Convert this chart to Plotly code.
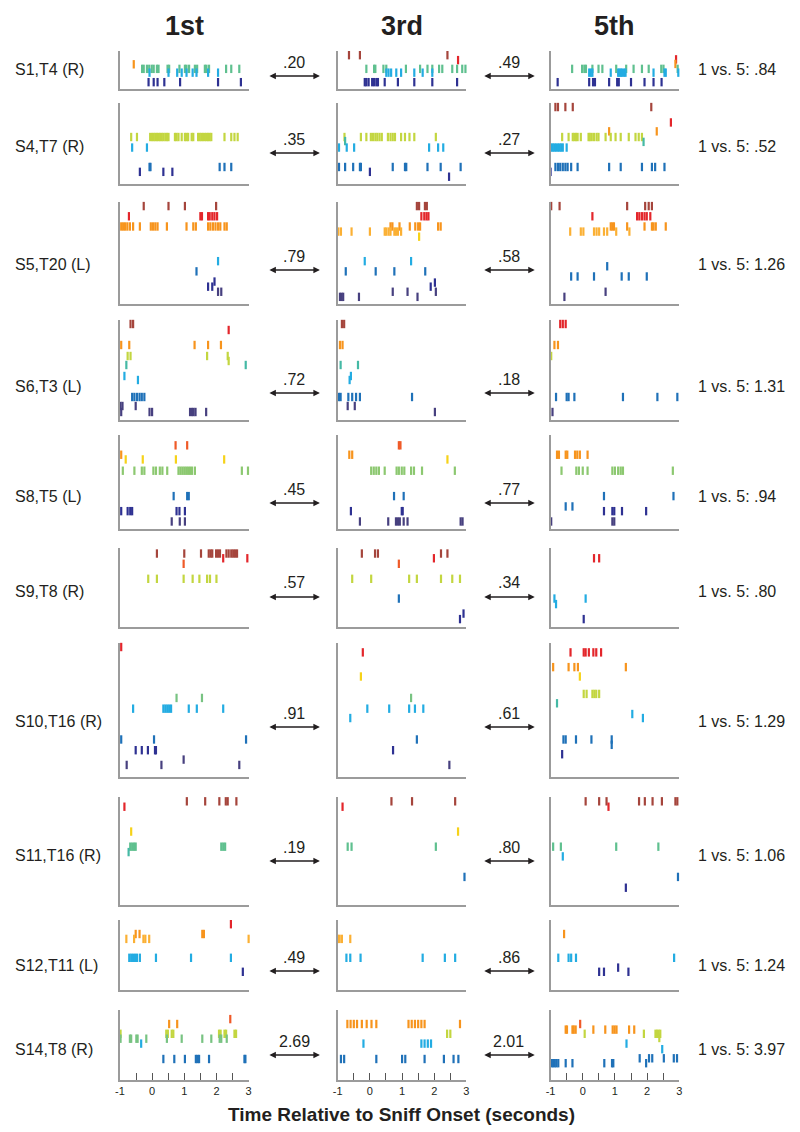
import plotly.graph_objects as go

W, H = 800, 1132

COLUMNS = ["1st", "3rd", "5th"]
ROW_LABELS = ["S1,T4 (R)", "S4,T7 (R)", "S5,T20 (L)", "S6,T3 (L)", "S8,T5 (L)",
              "S9,T8 (R)", "S10,T16 (R)", "S11,T16 (R)", "S12,T11 (L)", "S14,T8 (R)"]
CORR_1_3 = [".20", ".35", ".79", ".72", ".45", ".57", ".91", ".19", ".49", "2.69"]
CORR_3_5 = [".49", ".27", ".58", ".18", ".77", ".34", ".61", ".80", ".86", "2.01"]
CORR_1_5 = [".84", ".52", "1.26", "1.31", ".94", ".80", "1.29", "1.06", "1.24", "3.97"]
X_TICKS = [-1, -0.5, 0, 0.5, 1, 1.5, 2, 2.5, 3]
X_TICK_TEXT = ["-1", "", "0", "", "1", "", "2", "", "3"]

# spike rasters: per row -> [1st, 3rd, 5th], each a list of (unit, level 0-100, spike times in s)
S1_T4 = [
    [("orange", 65, [-0.57]),
     ("mint", 53, [-0.31, -0.26, -0.16, -0.09, -0.01, 0.05, 0.15, 0.2, 0.48, 0.53, 0.85, 1.02, 1.07,
                   1.15, 1.33, 1.4, 1.64, 1.69, 1.77, 2.3, 2.46, 2.71]),
     ("cyan", 43, [-0.08, 0.51, 0.78, 0.92, 1.07, 1.26, 1.38, 1.74, 2.05]),
     ("navy", 18, [-0.11, 0.05, 0.17, 0.38, 0.87, 2.05, 2.76])],
    [("brown", 89, [-0.65, -0.31, 2.41]),
     ("red", 76, [2.74]),
     ("mint", 53, [-0.11, 0.13, 0.17, 0.42, 0.51, 1.12, 1.56, 1.79, 1.94, 2.15, 2.25, 2.56, 2.71, 2.87, 2.97]),
     ("cyan", 43, [0.51, 0.58, 0.66, 0.82, 0.97, 1.38, 1.64, 1.94]),
     ("navy", 18, [-0.16, -0.11, -0.04, 0.07, 0.13, 0.2, 0.25, 0.46, 0.87, 1.38, 1.94, 2.71])],
    [("red", 78, [2.9]),
     ("orange", 66, [2.88]),
     ("mint", 53, [-0.33, -0.02, 0.05, 0.1, 0.3, 0.49, 0.61, 1.04, 1.35, 1.58, 1.84, 2.05, 2.44, 2.51, 2.95]),
     ("cyan", 43, [0.2, 0.25, 0.3, 0.87, 1.1, 1.14, 1.18, 1.22, 1.28, 1.33, 2.2, 2.54, 2.58, 2.97]),
     ("navy", 18, [-0.78, 0.2, 0.32, 0.38, 0.82, 1.07, 1.12, 1.5, 1.92, 2.2, 2.45])],
]

S4_T7 = [
    [("ygreen", 58, [-0.65, -0.47, -0.06, 0.0, 0.05, 0.1, 0.15, 0.2, 0.25, 0.3, 0.35, 0.41, 0.46, 0.51,
                     0.71, 0.76, 0.82, 0.92, 1.02, 1.07, 1.12, 1.23, 1.28, 1.43, 1.48, 1.53, 1.58, 1.64,
                     1.69, 1.74, 1.79, 1.84, 2.25, 2.46, 2.56, 2.66]),
     ("cyan", 45, [-0.62, -0.16]),
     ("blue", 21, [-0.08, -0.05, 2.1, 2.25, 2.46]),
     ("navy", 15, [-0.38, 0.35, 0.63])],
    [("ygreen", 58, [-0.79, -0.28, -0.11, 0.03, 0.1, 0.17, 0.23, 0.3, 0.37, 0.56, 0.64, 0.71, 0.78, 0.97,
                     1.09, 1.23, 1.38, 2.05]),
     ("teal", 53, [-0.77]),
     ("cyan", 45, [-0.96, -0.72, -0.49, 1.84, 2.12, 2.28]),
     ("blue", 21, [-0.96, -0.77, -0.52, -0.31, -0.28, 0.71, 1.09, 1.13, 1.79, 2.2, 2.82]),
     ("navy", 15, [0.0]),
     ("navy", 9, [2.46])],
    [("brown", 95, [-0.85, -0.77, -0.54, -0.31, 2.13]),
     ("red", 76, [2.74]),
     ("orange", 65, [0.82, 2.3]),
     ("ygreen", 58, [-0.64, -0.44, -0.31, -0.26, -0.21, -0.16, -0.06, 0.18, 0.22, 0.28, 0.35, 0.43, 0.49,
                     0.71, 0.87, 1.02, 1.18, 1.43, 1.64, 1.74, 1.84]),
     ("teal", 52, [1.89]),
     ("cyan", 45, [-0.98, -0.93, -0.88, -0.83, -0.77, -0.72, -0.67, -0.62, -0.5]),
     ("blue", 21, [-0.85, -0.77, -0.7, -0.62, -0.54, -0.47, -0.36, -0.16, 0.82, 1.18, 1.84, 2.15, 2.25, 2.54]),
     ("navy", 15, [-1.0])],
]

S5_T20 = [
    [("brown", 96, [-0.26, 0.51, 1.02, 1.99]),
     ("red", 86, [-0.72, 1.5, 1.55, 1.74, 1.79, 1.87, 1.94, 2.02]),
     ("orange", 76, [-0.96, -0.9, -0.84, -0.77, -0.69, -0.59, -0.38, -0.04, 0.03, 0.1, 0.17, 0.46, 1.07,
                     1.28, 1.36, 1.74, 1.81, 1.89, 1.97, 2.05, 2.12, 2.25, 2.32]),
     ("cyan", 42, [2.05]),
     ("blue", 32, [1.38]),
     ("navy", 22, [1.94]),
     ("navy", 17, [1.74, 1.87]),
     ("purple", 12, [2.05, 2.15])],
    [("brown", 96, [1.46, 1.53, 1.71, 1.77]),
     ("red", 86, [1.6, 1.69, 1.76, 1.82]),
     ("orange", 76, [0.64, 0.7, 0.92, 1.24, 1.41, 1.5, 1.56, 2.12, 2.2]),
     ("yorange", 71, [-0.98, -0.9, -0.57, 0.0, 0.46, 0.51, 0.58, 0.64, 0.76, 0.81, 0.87, 0.97]),
     ("yellow", 66, [1.53]),
     ("cyan", 42, [-0.16, 1.28]),
     ("blue", 32, [-0.75, 0.18, 0.76, 1.72]),
     ("navy", 21, [2.02]),
     ("navy", 17, [1.89]),
     ("purple", 12, [0.71, 1.17, 2.05]),
     ("purple", 7, [-0.93, -0.88, -0.83, -0.34, 1.48])],
    [("brown", 96, [-0.98, -0.72, 1.38, 1.94, 2.05, 2.15]),
     ("red", 86, [0.3, 1.69, 1.76, 1.84, 1.92, 1.99, 2.1]),
     ("orange", 76, [0.87, 0.92, 0.97, 1.38, 1.92, 2.15, 2.2, 2.27, 2.58]),
     ("yorange", 71, [-0.39, -0.06, 0.02, 0.35, 0.43, 0.51, 0.66, 0.76, 1.04, 1.45]),
     ("blue", 37, [0.76]),
     ("blue", 27, [-0.36, -0.16, 0.35, 1.21, 1.43, 1.99]),
     ("purple", 12, [0.71]),
     ("purple", 7, [-0.57])],
]

S6_T3 = [
    [("brown", 96, [-0.67, -0.59]),
     ("red", 90, [2.38]),
     ("orange", 75, [-0.96, -0.71, 1.32, 1.74, 2.14]),
     ("ygreen", 64, [-0.76, -0.67, 1.71, 2.35]),
     ("ygreen", 59, [2.38]),
     ("teal", 55, [-0.8, 2.91]),
     ("cyan", 44, [-0.86]),
     ("cyan", 40, [-0.44]),
     ("blue", 23, [-0.62, -0.55, -0.47, -0.39, -0.32, -0.24]),
     ("purple", 14, [-0.98, -0.92, -0.51]),
     ("purple", 8, [-0.96, -0.08, 0.0, 1.18, 1.24, 1.29, 1.35, 1.68])],
    [("brown", 96, [-0.87, -0.8]),
     ("orange", 75, [-0.93, -0.85]),
     ("teal", 55, [-0.91, -0.37]),
     ("cyan", 44, [-0.59]),
     ("cyan", 40, [-0.63]),
     ("blue", 23, [-0.96, -0.91, -0.67, -0.55, -0.43, -0.31, 1.31]),
     ("purple", 14, [-0.69, -0.47]),
     ("purple", 8, [2.02])],
    [("red", 96, [-0.7, -0.62, -0.53]),
     ("orange", 75, [-0.88, -0.77]),
     ("ygreen", 64, [-0.98]),
     ("blue", 23, [-0.83, -0.5, -0.44, -0.26, 1.25, 2.32, 2.94]),
     ("purple", 8, [-0.94])],
]

S8_T5 = [
    [("ored", 89, [0.73, 1.09]),
     ("orange", 79, [-0.96]),
     ("yellow", 74, [-0.82, -0.29, 0.74, 2.24]),
     ("lgreen", 62, [-0.91, -0.55, -0.32, -0.24, 0.04, 0.12, 0.24, 0.32, 0.47, 0.82, 0.88, 0.94, 1.0,
                     1.06, 1.12, 1.18, 1.24, 1.33, 2.79, 2.98]),
     ("blue", 35, [0.67, 1.09, 1.14]),
     ("navy", 19, [-0.96, -0.76, -0.68, -0.62, 0.76, 0.85, 1.02]),
     ("purple", 8, [0.61, 0.86, 1.02])],
    [("ored", 89, [0.9, 0.95]),
     ("orange", 79, [-0.64, -0.55]),
     ("yellow", 74, [2.41]),
     ("lgreen", 62, [0.04, 0.12, 0.2, 0.28, 0.46, 0.83, 0.9, 0.99, 1.07, 1.28, 1.37, 1.62, 2.64]),
     ("blue", 35, [0.75, 1.05]),
     ("navy", 19, [-0.59, 0.99, 1.02]),
     ("purple", 8, [-0.31, 0.57, 0.81, 0.87, 0.93, 1.05, 1.17, 2.82, 2.88])],
    [("orange", 79, [-0.8, -0.74, -0.53, -0.48, -0.24, -0.17, -0.09, 0.15]),
     ("lgreen", 62, [-0.66, -0.2, -0.12, 0.0, 0.15, 0.92, 1.0, 1.1, 1.18, 1.25, 2.8]),
     ("blue", 35, [0.66, 2.82]),
     ("blue", 24, [-0.53, -0.32]),
     ("navy", 19, [0.66, 0.92, 0.98, 1.22, 1.97]),
     ("purple", 8, [-0.98, 0.92, 0.98])],
]

S9_T8 = [
    [("brown", 93, [0.15, 1.0, 1.52, 1.76, 1.82, 1.87, 1.99, 2.05, 2.11, 2.31, 2.38, 2.46, 2.52, 2.58, 2.64]),
     ("red", 87, [2.21, 2.96]),
     ("ored", 80, [0.98]),
     ("ygreen", 61, [-0.12, 0.15, 0.98, 1.26, 1.47, 1.71, 1.8, 2.0])],
    [("brown", 93, [-0.25, 0.16, 0.25, 2.21, 2.41]),
     ("red", 87, [1.99]),
     ("ored", 80, [0.9]),
     ("ygreen", 61, [-0.55, 0.04, 1.22, 1.46, 2.21, 2.56, 2.8]),
     ("blue", 36, [0.9]),
     ("navy", 17, [2.91]),
     ("navy", 10, [2.8])],
    [("red", 87, [0.35, 0.51]),
     ("cyan", 36, [-0.88, 0.09]),
     ("cyan", 29, [-0.83]),
     ("navy", 10, [0.03])],
]

S10_T16 = [
    [("red", 97, [-0.96]),
     ("green", 59, [0.76, 1.55]),
     ("cyan", 51, [-0.59, 0.35, 0.41, 0.47, 0.53, 0.59, 1.14, 1.39, 2.21]),
     ("blue", 28, [-0.96, 0.06, 2.92]),
     ("navy", 20, [-0.51, -0.32, -0.13, 0.09, 0.12]),
     ("purple", 13, [0.98]),
     ("purple", 9, [-0.79, 0.29, 2.71])],
    [("red", 93, [-0.22]),
     ("yellow", 75, [-0.28]),
     ("green", 59, [1.28]),
     ("cyan", 51, [-0.08, 0.6, 1.22, 1.4, 1.66]),
     ("cyan", 44, [-0.61]),
     ("blue", 28, [1.46]),
     ("navy", 20, [0.72]),
     ("purple", 9, [2.47])],
    [("red", 93, [-0.38, 0.03, 0.09, 0.19, 0.33, 0.42, 0.57]),
     ("orange", 82, [-0.92, -0.44, -0.26, -0.15, 1.34]),
     ("yellow", 75, [-0.09]),
     ("ygreen", 62, [0.03, 0.12, 0.3, 0.36, 0.42, 0.51]),
     ("teal", 55, [-0.8]),
     ("cyan", 47, [1.54]),
     ("cyan", 44, [1.87]),
     ("blue", 28, [-0.6, -0.53, -0.21, 0.27, 0.9]),
     ("blue", 24, [0.9]),
     ("navy", 17, [-0.64])],
]

S11_T16 = [
    [("brown", 96, [1.08, 1.65, 2.09, 2.29, 2.35, 2.62]),
     ("red", 91, [-0.86]),
     ("yellow", 68, [-0.65]),
     ("mint", 54, [-0.68, -0.62, -0.56, -0.51, 2.15, 2.21, 2.27]),
     ("teal", 49, [-0.73])],
    [("brown", 96, [0.67, 1.31, 2.65]),
     ("red", 91, [-0.85]),
     ("yellow", 68, [2.74]),
     ("mint", 54, [-0.69, -0.57, 2.05]),
     ("blue", 26, [2.94])],
    [("brown", 96, [0.09, 0.51, 0.74, 1.75, 1.93, 2.17, 2.46, 2.88, 2.94]),
     ("red", 91, [0.8]),
     ("mint", 54, [-0.92, -0.68, 1.04, 2.35]),
     ("cyan", 45, [-0.62]),
     ("blue", 26, [2.96]),
     ("navy", 16, [1.34])],
]

S12_T11 = [
    [("red", 94, [2.45]),
     ("orange", 80, [-0.51, -0.39, 1.56, 1.61]),
     ("yorange", 73, [-0.8, -0.56, -0.27, -0.21, -0.09, 3.0]),
     ("cyan", 46, [-0.71, -0.65, -0.59, -0.53, -0.47, -0.38, 0.12, 1.21, 2.45]),
     ("navy", 26, [2.82])],
    [("yorange", 73, [-0.99, -0.94, -0.87, -0.61]),
     ("cyan", 46, [-0.73, -0.61, -0.29, 1.64, 2.33, 2.65])],
    [("orange", 80, [-0.58]),
     ("cyan", 46, [-0.76, -0.44, -0.36, -0.21, 2.84]),
     ("navy", 32, [1.1]),
     ("navy", 26, [0.51, 0.66, 1.42])],
]

S14_T8 = [
    [("ored", 87, [2.43]),
     ("orange", 80, [0.53, 0.78]),
     ("ygreen", 66, [-0.98, 0.44, 0.49, 0.61, 0.66, 2.08, 2.13, 2.25, 2.3, 2.56, 2.61]),
     ("green", 59, [-0.98, -0.69, -0.65, -0.49, -0.45, -0.18, 0.46, 0.92, 1.56, 1.84, 2.1, 2.15, 2.32]),
     ("cyan", 52, [-0.34]),
     ("blue", 30, [0.35, 0.69, 1.02, 1.36, 1.41, 1.46, 1.77, 2.87, 2.9])],
    [("orange", 80, [-0.7, -0.6, -0.5, -0.4, -0.25, -0.1, 0.05, 0.2, 1.2, 1.3, 1.4, 1.5, 1.6, 1.7, 2.8]),
     ("ygreen", 66, [2.4, 2.5]),
     ("cyan", 52, [-0.2, 1.6, 1.7, 1.8, 1.9]),
     ("blue", 30, [-0.9, -0.8, 0.2, 1.0, 1.1, 1.7, 2.3, 2.6, 2.75])],
    [("ored", 80, [-0.08]),
     ("orange", 72, [-0.53, -0.49, -0.32, -0.28, -0.22, 0.33, 0.7, 0.93, 0.99, 1.05, 1.44, 1.6]),
     ("ygreen", 66, [0.06, 1.9, 2.26, 2.31, 2.36, 2.41]),
     ("ygreen", 60, [2.38]),
     ("cyan", 52, [1.36]),
     ("cyan", 44, [2.47]),
     ("blue", 31, [1.77, 2.06, 2.16, 2.52, 2.83, 2.93]),
     ("blue", 24, [-0.97, -0.92, -0.87, -0.82, -0.76, -0.53, -0.32, 0.67, 0.91, 0.95, 1.97])],
]

SPIKES = [S1_T4, S4_T7, S5_T20, S6_T3, S8_T5, S9_T8, S10_T16, S11_T16, S12_T11, S14_T8]

UNIT_COLORS = {
    "brown": "#a5453c", "red": "#e3262b", "ored": "#ef5a28", "orange": "#f7941d",
    "yorange": "#fbb034", "yellow": "#f6d219", "ygreen": "#c3d640", "lgreen": "#8cc870",
    "green": "#78c382", "mint": "#5fc08f", "teal": "#45b9a5", "cyan": "#23ace2",
    "blue": "#1f71b8", "navy": "#2e3192", "purple": "#47407f",
}

# layout in page pixels (the page body adds an 8px margin around the figure)
PAGE_PAD = 8
COL_X = [(116, 246), (336, 466), (551, 681)]
ROW_Y = [(51, 89), (103, 184), (202, 304), (320, 420), (435, 529),
         (548, 627), (643, 777), (797, 905), (920, 990), (1010, 1080)]
ARROW_Y = [76, 153, 270, 393, 503, 597, 727, 861, 971, 1055]
HEADER_X = [181, 401, 616]
GREY = "#9b9b9b"
INK = "#231f20"
FONT = "Liberation Sans, Arial, sans-serif"


def px(x):
    return max(x - PAGE_PAD, 0) / W


def py(y):
    return 1 - (y - PAGE_PAD) / H


def note(x, y, text, size, xanchor="center", bold=False):
    return dict(x=px(x), y=py(y), xref="paper", yref="paper",
                xanchor=xanchor, yanchor="middle", showarrow=False,
                text=f"<b>{text}</b>" if bold else text,
                font=dict(size=size, color=INK, family=FONT))


fig = go.Figure()
layout = {}
n_rows = len(SPIKES)

for r, row in enumerate(SPIKES):
    for c, panel in enumerate(row):
        idx = r * 3 + c + 1
        sfx = "" if idx == 1 else str(idx)
        for unit, level, times in panel:
            fig.add_trace(go.Scatter(
                x=times, y=[level] * len(times),
                xaxis="x" + sfx, yaxis="y" + sfx,
                mode="markers", cliponaxis=False, hoverinfo="x",
                marker=dict(symbol="line-ns", size=6,
                            line=dict(width=2.2, color=UNIT_COLORS[unit])),
            ))
        bottom = r == n_rows - 1
        layout["xaxis" + sfx] = dict(
            domain=[px(COL_X[c][0]), px(COL_X[c][1])], anchor="y" + sfx,
            range=[-1, 3], showline=True, linecolor=GREY, linewidth=1.5,
            showgrid=False, zeroline=False,
            tickvals=X_TICKS if bottom else [], ticktext=X_TICK_TEXT if bottom else [],
            ticks="inside" if bottom else "", ticklen=7, tickcolor="#555", tickwidth=1,
            tickfont=dict(size=11, color=INK, family=FONT),
            showticklabels=bottom,
        )
        layout["yaxis" + sfx] = dict(
            domain=[py(ROW_Y[r][1]), py(ROW_Y[r][0])], anchor="x" + sfx,
            range=[0, 100], showline=True, linecolor=GREY, linewidth=1.5,
            showgrid=False, zeroline=False, showticklabels=False, ticks="",
        )

annotations = []
for c, name in enumerate(COLUMNS):
    annotations.append(note(HEADER_X[c], 26, name, 27, bold=True))

for r in range(n_rows):
    ay = ARROW_Y[r]
    annotations.append(note(5, ay - 6, ROW_LABELS[r], 16, xanchor="left"))
    annotations.append(note(698, ay - 6, f"1 vs. 5: {CORR_1_5[r]}", 16, xanchor="left"))
    for xc, val in ((292, CORR_1_3[r]), (509, CORR_3_5[r])):
        annotations.append(note(xc, ay - 14, val, 16))
        annotations.append(dict(x=px(xc + 26), y=py(ay), xref="paper", yref="paper",
                                ax=-52, ay=0, text="", showarrow=True,
                                arrowhead=2, startarrowhead=2, arrowside="end+start",
                                arrowsize=1, arrowwidth=1.3, arrowcolor=INK))

annotations.append(note(400, 1114, "Time Relative to Sniff Onset (seconds)", 19, bold=True))

fig.update_layout(
    **layout,
    annotations=annotations,
    width=W, height=H,
    margin=dict(l=0, r=0, t=0, b=0),
    paper_bgcolor="white", plot_bgcolor="white",
    showlegend=False,
)

fig.write_html("out.html")
